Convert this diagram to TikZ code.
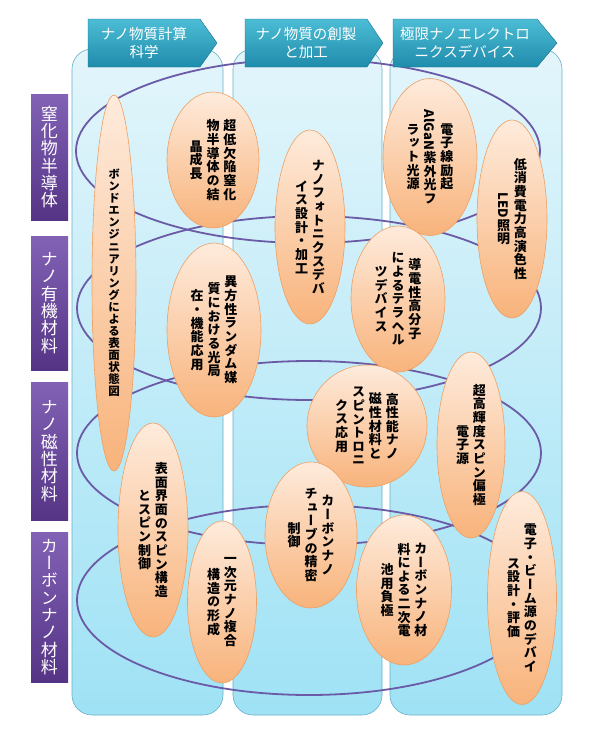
\documentclass[tikz,border=0pt]{standalone}
\usepackage{fontspec}
\usepackage{graphicx}
\usetikzlibrary{shapes.geometric}

\newfontfamily\jpv[RawFeature=+vert]{Noto Sans CJK JP}
\newfontfamily\jph{Noto Sans CJK JP}

\definecolor{panetop}{HTML}{E3F5FB}
\definecolor{panebot}{HTML}{9FE2F5}
\definecolor{paneline}{HTML}{6AAFC4}
\definecolor{ringc}{HTML}{6B5AA6}
\definecolor{bubtop}{HTML}{FEEBDC}
\definecolor{bubbot}{HTML}{F8B37B}
\definecolor{bubline}{HTML}{EDA062}
\definecolor{headtop}{HTML}{4DBDD6}
\definecolor{headbot}{HTML}{1E8CAB}
\definecolor{labtop}{HTML}{8262B5}
\definecolor{labbot}{HTML}{553486}

\def\vtpitch{1.05em}
\newcommand\sw[1]{\rotatebox[origin=c]{-90}{#1}}

\ExplSyntaxOn
\NewDocumentCommand\vcol{m}{
  \ensuremath{\vcenter{
    \baselineskip=\vtpitch
    \lineskip=0.1em
    \lineskiplimit=0pt
    \tl_map_inline:nn {#1} { \hbox_to_wd:nn {1em} { \hss ##1 \hss } }
  }}
}
\NewDocumentCommand\vtxt{O{0.3em}m}{
  \clist_set:Nn \l_tmpa_clist {#2}
  \clist_reverse:N \l_tmpa_clist
  \hbox:n { \clist_map_inline:Nn \l_tmpa_clist { \vcol{##1} \hskip #1 } \unskip }
}
\ExplSyntaxOff

\begin{document}
\begin{tikzpicture}[x=1pt,y=-1pt,
  panel/.style={rounded corners=20pt, draw=paneline, line width=0.6pt, top color=panetop, bottom color=panebot},
  ring/.style={draw=ringc, line width=1.8pt},
  banner/.style={draw=headbot!80!black, line width=0.4pt, top color=headtop, bottom color=headbot},
  bannertext/.style={text=white, align=center, font=\jph\fontsize{14.5}{18}\selectfont},
  rowlab/.style={rectangle, minimum width=37pt, inner sep=0pt, top color=labtop, bottom color=labbot,
    text=white, font=\jpv\fontsize{17}{17}\selectfont\def\vtpitch{1.02em}},
  bubble/.style={ellipse, inner sep=0pt, draw=bubline, line width=0.6pt, top color=bubtop, bottom color=bubbot,
    font=\jpv\bfseries\fontsize{13}{14}\selectfont},
]
\def\ringrx{232}
\def\rowx{49.5}

\useasboundingbox (0,0) rectangle (600,745);

\path[panel] (72,49) rectangle (223,715);
\path[panel] (233,49) rectangle (382,715);
\path[panel] (390,49) rectangle (562,715);

\draw[ring] (308,151) ellipse [x radius=\ringrx, y radius=92];
\draw[ring] (309,308) ellipse [x radius=\ringrx, y radius=92];
\draw[ring] (309,453) ellipse [x radius=\ringrx, y radius=92];
\draw[ring] (309,600) ellipse [x radius=\ringrx, y radius=95];

\path[banner] (88,19) -- (200,19) -- (217,43) -- (200,67) -- (88,67) -- cycle;
\node[bannertext] (hdCalc) at (144,43) {ナノ物質計算\\科学};
\path[banner] (245,19) -- (367,19) -- (383,43) -- (367,67) -- (245,67) -- cycle;
\node[bannertext] (hdMake) at (306,43) {ナノ物質の創製\\と加工};
\path[banner] (393,19) -- (537,19) -- (557,43) -- (537,67) -- (393,67) -- cycle;
\node[bannertext] (hdDev) at (465,43) {極限ナノエレクトロ\\ニクスデバイス};

\node[rowlab, minimum height=126pt] (rowNitride) at (\rowx,157) {\vtxt{窒化物半導体}};
\node[rowlab, minimum height=134pt] (rowOrganic) at (\rowx,303) {\vtxt{ナノ有機材料}};
\node[rowlab, minimum height=138pt] (rowMagnet) at (\rowx,451) {\vtxt{ナノ磁性材料}};
\node[rowlab, minimum height=150pt] (rowCarbon) at (\rowx,607) {\vtxt{カーボンナノ材料}};

\node[bubble, minimum width=44pt, minimum height=376pt, font=\jpv\bfseries\fontsize{11.5}{12}\selectfont]
  (bond) at (114,283) {\vtxt{ボンドエンジニアリングによる表面状態図}};
\node[bubble, minimum width=92pt, minimum height=136pt] (nitGrowth) at (213,160) {\vtxt{超低欠陥窒化,物半導体の結,晶成長}};
\node[bubble, minimum width=70pt, minimum height=194pt] (photonic) at (310,227) {\vtxt{ナノフォトニクスデバ,イス設計・加工}};
\node[bubble, minimum width=94pt, minimum height=157pt] (uvLight) at (430,157) {\vtxt{電子線励起,{\sw{AlGaN}}紫外光フ,ラット光源}};
\node[bubble, minimum width=70pt, minimum height=198pt] (ledLamp) at (512,219) {\vtxt{低消費電力高演色性,{\sw{LED}}照明}};
\node[bubble, minimum width=94pt, minimum height=146pt] (terahertz) at (398,299) {\vtxt{導電性高分子,によるテラヘル,ツデバイス}};
\node[bubble, minimum width=94pt, minimum height=174pt] (randomMed) at (214,330) {\vtxt{異方性ランダム媒,質における光局,在・機能応用}};
\node[bubble, minimum width=120pt, minimum height=122pt] (spintronic) at (367,426) {\vtxt{高性能ナノ,磁性材料と,スピントロニ,クス応用}};
\node[bubble, minimum width=68pt, minimum height=186pt] (spinSource) at (471,445) {\vtxt{超高輝度スピン偏極,電子源}};
\node[bubble, minimum width=70pt, minimum height=214pt] (surfSpin) at (153,530) {\vtxt{表面界面のスピン構造,とスピン制御}};
\node[bubble, minimum width=69pt, minimum height=162pt] (oneDim) at (222,602) {\vtxt{一次元ナノ複合,構造の形成}};
\node[bubble, minimum width=92pt, minimum height=146pt] (nanotube) at (311,535) {\vtxt{カーボンナノ,チューブの精密,制御}};
\node[bubble, minimum width=95pt, minimum height=150pt] (anode) at (404,590) {\vtxt{カーボンナノ材,料による二次電,池用負極}};
\node[bubble, minimum width=69pt, minimum height=213pt] (beamSource) at (522,598) {\vtxt{電子・ビーム源のデバイ,ス設計・評価}};
\end{tikzpicture}
\end{document}
